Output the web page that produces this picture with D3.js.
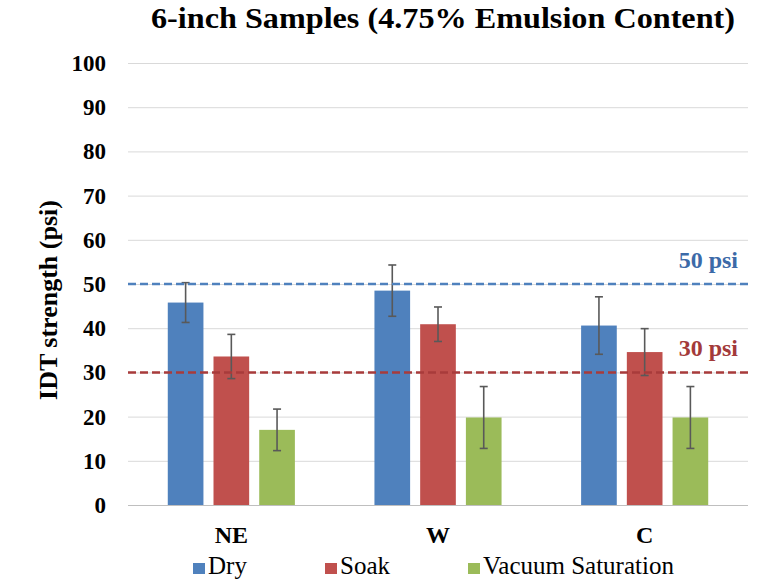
<!DOCTYPE html>
<html><head><meta charset="utf-8">
<script src="https://cdn.jsdelivr.net/npm/d3@7"></script>
<style>
@font-face { font-family: "ChartSerif"; src: local("Liberation Serif"), local("LiberationSerif-Regular"), local("Times New Roman"); font-weight: normal; }
@font-face { font-family: "ChartSerif"; src: local("Liberation Serif Bold"), local("LiberationSerif-Bold"), local("Times New Roman Bold"); font-weight: bold; }
</style>
</head><body style="margin:0"><svg id="c" width="761" height="584"></svg>
<script>
const categories = ["NE", "W", "C"];
const seriesNames = ["Dry", "Soak", "Vacuum Saturation"];
const seriesColors = ["#4F81BD", "#C0504D", "#9BBB59"];
const dryValues = [45.8, 48.5, 40.6];
const soakValues = [33.6, 40.9, 34.6];
const vacValues = [17.0, 19.8, 19.8];
const dryErr = [4.5, 5.8, 6.5];
const soakErr = [5.0, 3.9, 5.3];
const vacErr = [4.7, 7.0, 7.0];
const yTicks = [0, 10, 20, 30, 40, 50, 60, 70, 80, 90, 100];
const refValues = [50, 30];
const refLabels = ["50 psi", "30 psi"];
const refColors = ["#4F81BD", "#A83B3B"];
const refLabelColors = ["#3C6AA8", "#A33A3A"];
const titleText = "6-inch Samples (4.75% Emulsion Content)";
const yTitle = "IDT strength (psi)";

(function() {
const values = [dryValues, soakValues, vacValues];
const errs = [dryErr, soakErr, vacErr];

const svg = d3.select("#c");
const pLeft = 128, pRight = 748, pTop = 63, pBottom = 505;
const FONT = "'Liberation Serif', ChartSerif, Tinos, 'Times New Roman', Times, serif";
function txt(sel, size, bold) {
  return sel.attr("font-family", "Liberation Serif")
    .style("font-family", FONT)
    .style("font-size", size + "px")
    .style("font-weight", bold ? "bold" : "normal");
}

const y = d3.scaleLinear().domain([0, 100]).range([pBottom, pTop]);
const x0 = d3.scaleBand().domain(categories).range([pLeft, pRight]).padding(0);
const x1 = d3.scaleBand().domain(seriesNames).range([0, x0.bandwidth()]).paddingInner(0.22).paddingOuter(0.87);

// gridlines
const yAxis = d3.axisLeft(y).tickValues(yTicks).tickSize(-(pRight - pLeft)).tickFormat("");
const ga = svg.append("g").attr("transform", `translate(${pLeft},0)`).call(yAxis);
ga.attr("font-family", null).attr("font-size", null);
ga.select(".domain").remove();
ga.selectAll(".tick text").remove();
ga.selectAll(".tick line").attr("stroke", "#D9D9D9").attr("stroke-width", 1);
ga.selectAll(".tick line").filter(d => d === 0).attr("stroke", "#BFBFBF");

// tick labels
txt(svg.append("g").selectAll("text").data(yTicks).join("text")
  .attr("x", 106).attr("y", d => y(d)).attr("dy", "0.35em").attr("text-anchor", "end")
  .attr("fill", "#000"), 23, true)
  .text(d => d3.format("d")(d));

// bars
const groups = svg.append("g").selectAll("g").data(categories).join("g")
  .attr("transform", d => `translate(${x0(d)},0)`);
seriesNames.forEach((s, si) => {
  groups.append("rect")
    .attr("x", x1(s)).attr("width", x1.bandwidth())
    .attr("y", (d, i) => y(values[si][i]))
    .attr("height", (d, i) => y(0) - y(values[si][i]))
    .attr("fill", seriesColors[si]);
});

// reference lines
refValues.forEach((v, i) => {
  svg.append("line").attr("x1", pLeft).attr("x2", pRight).attr("y1", y(v)).attr("y2", y(v))
    .attr("stroke", refColors[i]).attr("stroke-width", 2.5).attr("stroke-dasharray", "8,4");
  txt(svg.append("text").attr("x", 738).attr("y", y(v) - 16).attr("text-anchor", "end")
    .attr("fill", refLabelColors[i]), 24, true).text(refLabels[i]);
});

// error bars
seriesNames.forEach((s, si) => {
  groups.each(function(d, i) {
    const g = d3.select(this);
    const cx = x1(s) + x1.bandwidth() / 2;
    const hi = y(values[si][i] + errs[si][i]), lo = y(values[si][i] - errs[si][i]);
    const col = "#595959", w = 1.6;
    g.append("line").attr("x1", cx).attr("x2", cx).attr("y1", hi).attr("y2", lo).attr("stroke", col).attr("stroke-width", w);
    g.append("line").attr("x1", cx - 4).attr("x2", cx + 4).attr("y1", hi).attr("y2", hi).attr("stroke", col).attr("stroke-width", w);
    g.append("line").attr("x1", cx - 4).attr("x2", cx + 4).attr("y1", lo).attr("y2", lo).attr("stroke", col).attr("stroke-width", w);
  });
});

// category labels
txt(svg.append("g").selectAll("text").data(categories).join("text")
  .attr("x", d => x0(d) + x0.bandwidth() / 2).attr("y", 543).attr("text-anchor", "middle"), 24, true)
  .text(d => d);

// title
txt(svg.append("text").attr("x", 443).attr("y", 28).attr("text-anchor", "middle")
  .attr("textLength", 584).attr("lengthAdjust", "spacingAndGlyphs"), 30, true).text(titleText);

// y title
txt(svg.append("text").attr("transform", "translate(57,300) rotate(-90)").attr("text-anchor", "middle"), 26, true)
  .text(yTitle);

// legend
const legX = [193, 325, 468];
seriesNames.forEach((s, i) => {
  svg.append("rect").attr("x", legX[i]).attr("y", 563).attr("width", 12).attr("height", 11).attr("fill", seriesColors[i]);
  txt(svg.append("text").attr("x", legX[i] + 15).attr("y", 574), 25, false).text(s);
});
})();
</script></body></html>
